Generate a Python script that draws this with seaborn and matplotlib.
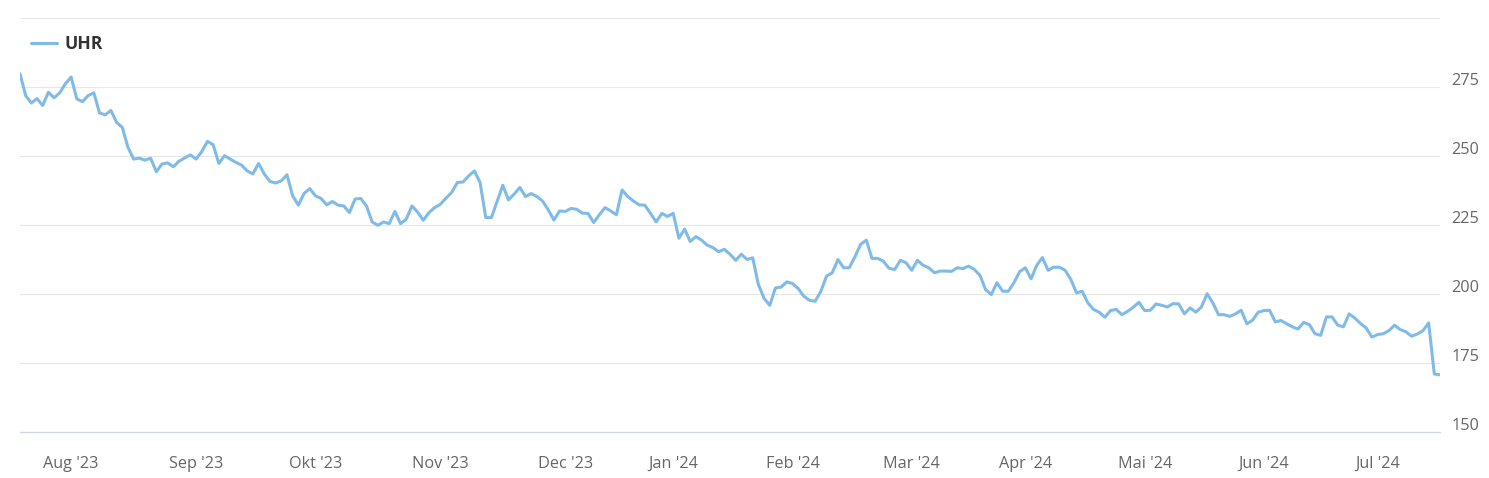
import numpy as np
import pandas as pd
import seaborn as sns
import matplotlib.pyplot as plt
import matplotlib.transforms as mtransforms

# UHR closing prices, one per trading day
uhr_close = [
    279.8, 271.9, 269.2, 270.8, 268.3, 273.1, 271.1, 272.9, 276.2, 278.6,
    270.7, 269.7, 271.9, 272.9, 265.6, 264.9, 266.5, 262.2, 260.4, 253.2,
    248.9, 249.2, 248.5, 249.2, 244.3, 247.1, 247.5, 246.1, 248.1, 249.3,
    250.4, 248.9, 251.6, 255.3, 254.1, 247.3, 250.1, 248.9, 247.7, 246.7,
    244.6, 243.5, 247.3, 243.5, 240.8, 240.2, 241.0, 243.2, 235.6, 232.2,
    236.4, 238.2, 235.6, 234.6, 232.3, 233.5, 232.2, 231.9, 229.5, 234.4,
    234.6, 231.9, 226.1, 224.9, 226.1, 225.5, 229.9, 225.5, 227.1, 231.9,
    229.7, 226.7, 229.5, 231.3, 232.5, 234.7, 236.8, 240.4, 240.6, 242.8,
    244.6, 240.4, 227.7, 227.7, 233.5, 239.4, 234.1, 236.2, 238.6, 235.3,
    236.4, 235.3, 233.7, 230.5, 226.8, 230.1, 229.9, 231.0, 230.7, 229.3,
    229.2, 225.9, 228.7, 231.3, 230.1, 228.7, 237.7, 235.3, 233.7, 232.3,
    232.2, 229.2, 226.1, 229.2, 228.1, 229.2, 220.2, 223.5, 219.0, 220.8,
    219.5, 217.7, 216.8, 215.3, 216.2, 214.4, 212.2, 214.4, 212.5, 213.1,
    203.4, 198.4, 195.9, 202.2, 202.5, 204.4, 203.8, 202.0, 199.2, 197.7,
    197.4, 201.0, 206.5, 207.7, 212.5, 209.5, 209.5, 213.5, 218.0, 219.5,
    212.9, 212.9, 211.9, 209.3, 208.9, 212.2, 211.3, 208.6, 212.2, 210.4,
    209.5, 207.7, 208.3, 208.3, 208.2, 209.5, 209.2, 210.1, 208.9, 206.8,
    201.6, 199.8, 204.1, 201.0, 201.0, 204.1, 208.1, 209.5, 205.5, 210.4,
    213.2, 208.6, 209.7, 209.7, 208.6, 205.3, 200.4, 201.0, 196.8, 194.4,
    193.4, 191.6, 194.0, 194.4, 192.5, 193.7, 195.2, 197.0, 194.0, 194.1,
    196.4, 195.9, 195.3, 196.5, 196.4, 192.8, 195.0, 193.4, 195.3, 200.1,
    196.8, 192.5, 192.5, 191.9, 192.8, 194.1, 189.2, 190.5, 193.4, 194.0,
    194.1, 189.9, 190.4, 189.2, 188.1, 187.3, 189.7, 188.9, 185.6, 185.0,
    191.7, 191.7, 188.7, 188.1, 192.8, 191.3, 189.3, 187.7, 184.4, 185.3,
    185.6, 186.7, 188.7, 187.1, 186.3, 184.7, 185.5, 186.7, 189.5, 171.0,
    170.7,
]

start_date = '2023-07-19'
end_date = '2024-07-16'
holidays = ['2023-08-01', '2023-12-25', '2023-12-26', '2024-01-01',
            '2024-01-02', '2024-03-29', '2024-04-01', '2024-05-01', '2024-05-09']

month_labels = ["Aug '23", "Sep '23", "Okt '23", "Nov '23", "Dec '23", "Jan '24",
                "Feb '24", "Mar '24", "Apr '24", "Mai '24", "Jun '24", "Jul '24"]

y_ticks = [150, 175, 200, 225, 250, 275, 300]

dates = pd.bdate_range(start_date, end_date)
dates = dates[~dates.isin(pd.to_datetime(holidays))]

df = pd.DataFrame({'date': dates, 'close': uhr_close})
df['pos'] = np.arange(len(df))  # ordinal axis, like a stock chart

# first trading day of every month
month_start = df.groupby(df['date'].dt.to_period('M'))['pos'].min().iloc[1:]

sns.set_style('white')
plt.rcParams['font.family'] = ['Open Sans', 'DejaVu Sans']

fig = plt.figure(figsize=(14.89, 4.78), dpi=100)
ax = fig.add_axes([20 / 1489, 1 - 432 / 478, 1420 / 1489, 414 / 478])

sns.lineplot(x='pos', y='close', data=df, ax=ax, color='#80bbe8',
             linewidth=2.2, label='UHR')

ax.set_xlim(0, len(df) - 1)
ax.set_ylim(150, 300)
ax.set_xlabel('')
ax.set_ylabel('')

ax.set_yticks(y_ticks)
ax.set_yticklabels([str(t) if t < 300 else '' for t in y_ticks])
ax.yaxis.tick_right()
ax.yaxis.grid(True, color='#e6e6e6', linewidth=0.8)
ax.tick_params(axis='y', length=0, pad=8, labelsize=11.7, labelcolor='#666666')
shift = mtransforms.ScaledTranslation(0, 8 / 100, fig.dpi_scale_trans)
for lbl in ax.get_yticklabels():
    lbl.set_transform(lbl.get_transform() + shift)

ax.set_xticks(month_start.values)
ax.set_xticklabels(month_labels)
ax.tick_params(axis='x', direction='out', length=10, width=0.8, color='#ccd6eb',
               pad=7.5, labelsize=11.7, labelcolor='#666666')

for s in ['top', 'left', 'right']:
    ax.spines[s].set_visible(False)
ax.spines['bottom'].set_color('#ccd6eb')
ax.spines['bottom'].set_linewidth(0.9)

leg = ax.legend(loc='upper left', bbox_to_anchor=(0.0, 0.985), frameon=False,
                handlelength=1.5, handletextpad=0.45, borderaxespad=0.2,
                prop={'weight': 'bold', 'size': 12.7})
for t in leg.get_texts():
    t.set_color('#333333')

fig.savefig('out.png', dpi=100)
